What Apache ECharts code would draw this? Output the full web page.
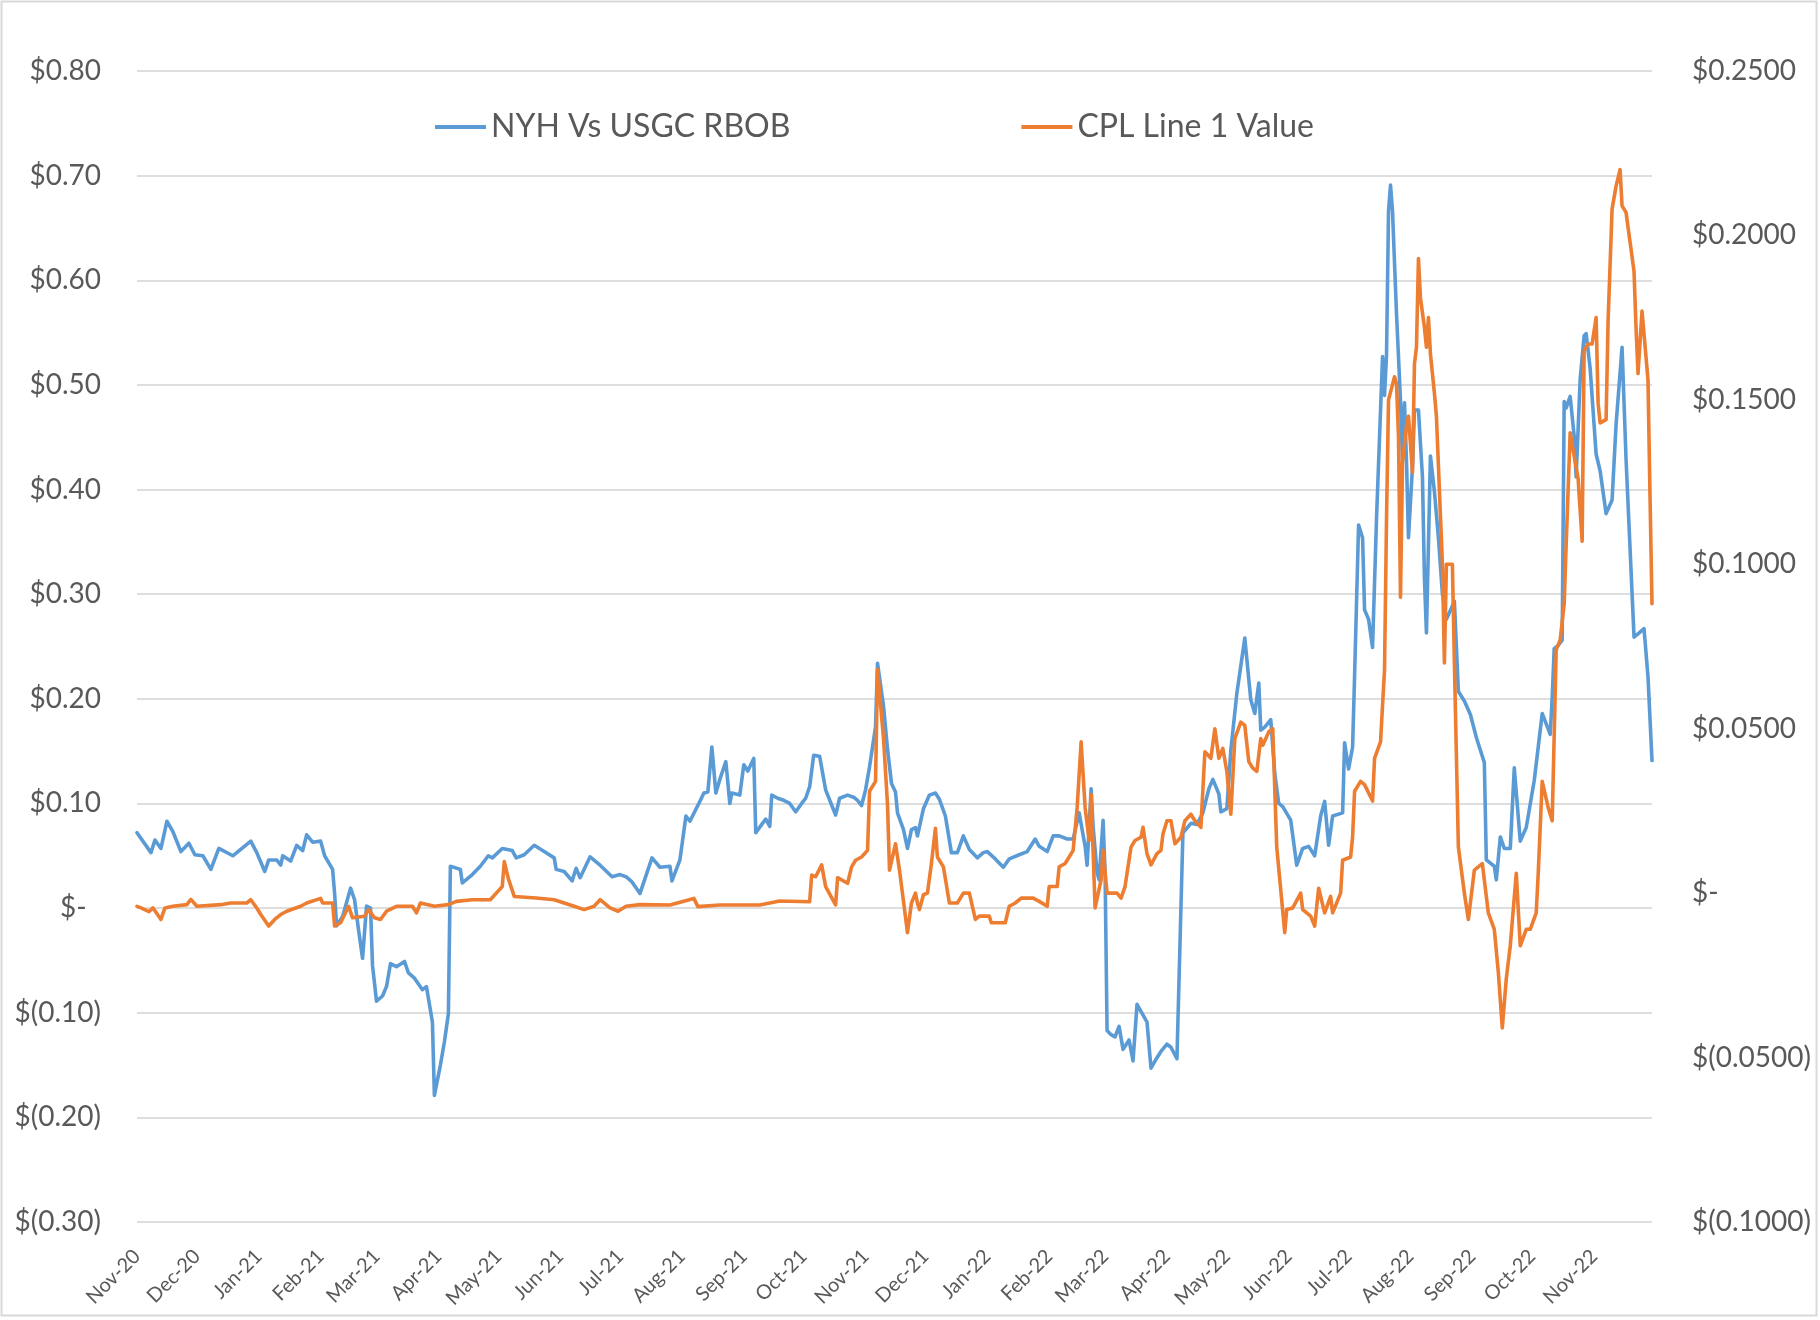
<!DOCTYPE html>
<html>
<head>
<meta charset="utf-8">
<script src="https://cdn.jsdelivr.net/npm/echarts@6/dist/echarts.min.js"></script>
<style>
  html, body { margin: 0; padding: 0; background: #fff; }
  #chart { width: 1820px; height: 1320px; }
</style>
</head>
<body>
<div id="chart"></div>
<script>
// NYH vs USGC RBOB spread (left axis, $/gal)
const nyhDates = [
  '2020-11-01','2020-11-08','2020-11-10','2020-11-13','2020-11-16','2020-11-19','2020-11-23','2020-11-27','2020-11-30',
  '2020-12-04','2020-12-08','2020-12-12','2020-12-19','2020-12-28','2020-12-31',
  '2021-01-04','2021-01-06','2021-01-10','2021-01-12','2021-01-13','2021-01-17','2021-01-20','2021-01-23','2021-01-25','2021-01-28',
  '2021-02-01','2021-02-03','2021-02-07','2021-02-08','2021-02-09','2021-02-12','2021-02-16','2021-02-18','2021-02-20','2021-02-22','2021-02-24','2021-02-26','2021-02-27',
  '2021-03-01','2021-03-04','2021-03-06','2021-03-08','2021-03-11','2021-03-15','2021-03-17','2021-03-20','2021-03-24','2021-03-26','2021-03-29','2021-03-30',
  '2021-04-02','2021-04-04','2021-04-06','2021-04-07','2021-04-12','2021-04-13','2021-04-18','2021-04-22','2021-04-26','2021-04-28',
  '2021-05-03','2021-05-08','2021-05-10','2021-05-14','2021-05-19','2021-05-24','2021-05-29','2021-05-30',
  '2021-06-03','2021-06-07','2021-06-09','2021-06-11','2021-06-16','2021-06-21','2021-06-27',
  '2021-07-01','2021-07-04','2021-07-07','2021-07-11','2021-07-17','2021-07-21','2021-07-26','2021-07-27','2021-07-31',
  '2021-08-03','2021-08-05','2021-08-10','2021-08-12','2021-08-14','2021-08-16','2021-08-18','2021-08-20','2021-08-23','2021-08-25','2021-08-26','2021-08-30',
  '2021-09-01','2021-09-03','2021-09-06','2021-09-07','2021-09-10','2021-09-12','2021-09-14','2021-09-15','2021-09-18','2021-09-21','2021-09-24','2021-09-27','2021-09-30',
  '2021-10-02','2021-10-04','2021-10-06','2021-10-09','2021-10-12','2021-10-17','2021-10-19','2021-10-23','2021-10-26','2021-10-28','2021-10-30',
  '2021-11-01','2021-11-03','2021-11-06','2021-11-07','2021-11-10','2021-11-12','2021-11-14','2021-11-16','2021-11-17','2021-11-20','2021-11-22','2021-11-24','2021-11-26','2021-11-27','2021-11-30',
  '2021-12-03','2021-12-06','2021-12-08','2021-12-11','2021-12-14','2021-12-17','2021-12-20','2021-12-23','2021-12-27','2021-12-30',
  '2022-01-01','2022-01-05','2022-01-09','2022-01-12','2022-01-17','2022-01-21','2022-01-25','2022-01-27','2022-01-31',
  '2022-02-03','2022-02-06','2022-02-10','2022-02-13','2022-02-16','2022-02-19','2022-02-20','2022-02-22','2022-02-23','2022-02-25','2022-02-26','2022-02-28',
  '2022-03-01','2022-03-02','2022-03-04','2022-03-06','2022-03-08','2022-03-10','2022-03-13','2022-03-15','2022-03-17','2022-03-22','2022-03-24','2022-03-27','2022-03-29',
  '2022-04-01','2022-04-03','2022-04-06','2022-04-09','2022-04-13','2022-04-16','2022-04-19','2022-04-22','2022-04-24','2022-04-27','2022-04-28',
  '2022-05-01','2022-05-03','2022-05-06','2022-05-10','2022-05-13','2022-05-15','2022-05-17','2022-05-18','2022-05-20','2022-05-23','2022-05-25','2022-05-27','2022-05-29',
  '2022-06-02','2022-06-05','2022-06-08','2022-06-11','2022-06-14','2022-06-17','2022-06-19','2022-06-21','2022-06-23','2022-06-28','2022-06-29',
  '2022-07-01','2022-07-03','2022-07-04','2022-07-06','2022-07-08','2022-07-09','2022-07-11','2022-07-13','2022-07-15','2022-07-18','2022-07-19','2022-07-20','2022-07-21','2022-07-22','2022-07-23','2022-07-25','2022-07-27','2022-07-28','2022-07-29','2022-07-30','2022-07-31',
  '2022-08-02','2022-08-03','2022-08-05','2022-08-07','2022-08-08','2022-08-09','2022-08-11','2022-08-13','2022-08-15','2022-08-17','2022-08-19','2022-08-23','2022-08-25','2022-08-28','2022-08-31',
  '2022-09-03','2022-09-07','2022-09-08','2022-09-12','2022-09-13','2022-09-15','2022-09-17','2022-09-20','2022-09-22','2022-09-25','2022-09-28',
  '2022-10-02','2022-10-06','2022-10-10','2022-10-11','2022-10-12','2022-10-14','2022-10-16','2022-10-17','2022-10-18','2022-10-20','2022-10-22','2022-10-23','2022-10-25','2022-10-27','2022-10-28','2022-10-30',
  '2022-11-02','2022-11-04','2022-11-07','2022-11-10','2022-11-12','2022-11-15','2022-11-17','2022-11-21','2022-11-23','2022-11-26','2022-11-28','2022-11-30'
];
const nyhValues = [
  0.072,0.053,0.065,0.057,0.083,0.073,0.054,0.062,0.051,
  0.050,0.037,0.057,0.050,0.064,0.053,
  0.035,0.046,0.046,0.041,0.050,0.045,0.060,0.055,0.070,0.063,
  0.064,0.050,0.037,0.014,-0.017,-0.008,0.019,0.008,-0.021,-0.048,0.002,0.000,-0.055,
  -0.089,-0.084,-0.075,-0.053,-0.056,-0.051,-0.062,-0.067,-0.078,-0.075,-0.109,-0.179,
  -0.150,-0.128,-0.101,0.040,0.037,0.024,0.032,0.040,0.050,0.048,
  0.057,0.055,0.048,0.051,0.060,0.054,0.048,0.037,
  0.035,0.026,0.038,0.029,0.049,0.041,0.030,
  0.032,0.030,0.025,0.014,0.048,0.039,0.040,0.026,0.046,
  0.088,0.083,0.102,0.110,0.111,0.154,0.110,0.123,0.140,0.100,0.110,0.108,
  0.137,0.131,0.143,0.072,0.080,0.085,0.078,0.108,0.105,0.103,0.100,0.092,0.100,
  0.105,0.116,0.146,0.145,0.113,0.089,0.105,0.108,0.106,0.103,0.098,
  0.113,0.135,0.173,0.234,0.193,0.152,0.119,0.111,0.091,0.075,0.057,0.075,0.077,0.069,0.095,
  0.108,0.110,0.104,0.088,0.053,0.053,0.069,0.056,0.048,0.053,
  0.054,0.047,0.039,0.047,0.051,0.054,0.066,0.059,0.054,
  0.069,0.069,0.066,0.066,0.091,0.059,0.041,0.114,0.078,0.034,0.027,0.084,
  0.034,-0.117,-0.121,-0.123,-0.113,-0.135,-0.126,-0.146,-0.092,-0.109,-0.153,-0.143,-0.137,
  -0.130,-0.133,-0.144,0.072,0.081,0.080,0.091,0.114,0.123,0.109,0.092,
  0.095,0.151,0.205,0.258,0.199,0.186,0.215,0.170,0.173,0.180,0.129,0.100,0.097,
  0.084,0.041,0.057,0.059,0.050,0.088,0.102,0.060,0.088,0.091,0.158,
  0.133,0.154,0.222,0.366,0.354,0.285,0.276,0.249,0.373,0.527,0.490,0.529,0.666,0.691,0.666,0.568,0.485,0.427,0.483,0.427,0.354,
  0.422,0.476,0.476,0.412,0.315,0.263,0.432,0.398,0.354,0.300,0.276,0.293,0.207,0.198,0.185,
  0.163,0.139,0.046,0.040,0.027,0.068,0.057,0.057,0.134,0.064,0.077,
  0.122,0.186,0.166,0.201,0.248,0.251,0.256,0.484,0.478,0.489,0.451,0.412,0.505,0.547,0.549,0.516,
  0.434,0.418,0.377,0.390,0.462,0.536,0.429,0.259,0.262,0.267,0.221,0.141
];

// CPL Line 1 value (right axis, $/gal)
const cplDates = [
  '2020-11-01','2020-11-03','2020-11-07','2020-11-09','2020-11-13','2020-11-15','2020-11-19','2020-11-26','2020-11-28',
  '2020-12-01','2020-12-13','2020-12-18','2020-12-26','2020-12-28','2020-12-31',
  '2021-01-02','2021-01-06','2021-01-09','2021-01-12','2021-01-15','2021-01-22','2021-01-25',
  '2021-02-01','2021-02-02','2021-02-07','2021-02-08','2021-02-11','2021-02-15','2021-02-17','2021-02-23','2021-02-25','2021-02-28',
  '2021-03-03','2021-03-06','2021-03-11','2021-03-19','2021-03-21','2021-03-23','2021-03-30',
  '2021-04-06','2021-04-10','2021-04-18','2021-04-27','2021-04-30',
  '2021-05-03','2021-05-04','2021-05-06','2021-05-09','2021-05-20','2021-05-29',
  '2021-06-03','2021-06-08','2021-06-13','2021-06-18','2021-06-21','2021-06-26','2021-06-30',
  '2021-07-04','2021-07-11','2021-07-26','2021-08-07','2021-08-09','2021-08-20','2021-09-09','2021-09-19',
  '2021-10-04','2021-10-05','2021-10-07','2021-10-10','2021-10-12','2021-10-17','2021-10-18','2021-10-23','2021-10-25','2021-10-27','2021-10-30',
  '2021-11-02','2021-11-03','2021-11-06','2021-11-07','2021-11-10','2021-11-12','2021-11-13','2021-11-16','2021-11-18','2021-11-22','2021-11-24','2021-11-26','2021-11-27','2021-11-28','2021-11-30',
  '2021-12-02','2021-12-04','2021-12-06','2021-12-07','2021-12-10','2021-12-13','2021-12-17','2021-12-20','2021-12-23','2021-12-26','2021-12-28',
  '2022-01-02','2022-01-03','2022-01-07','2022-01-10','2022-01-12','2022-01-15','2022-01-18','2022-01-24','2022-01-27','2022-01-31',
  '2022-02-01','2022-02-05','2022-02-06','2022-02-09','2022-02-11','2022-02-13','2022-02-15','2022-02-17','2022-02-19','2022-02-21','2022-02-22','2022-02-24','2022-02-27','2022-02-28',
  '2022-03-02','2022-03-07','2022-03-09','2022-03-11','2022-03-14','2022-03-16','2022-03-19','2022-03-20','2022-03-22','2022-03-24','2022-03-27','2022-03-29','2022-03-30',
  '2022-04-01','2022-04-03','2022-04-05','2022-04-08','2022-04-10','2022-04-13','2022-04-15','2022-04-18','2022-04-20','2022-04-23','2022-04-25','2022-04-27','2022-04-29',
  '2022-05-01','2022-05-03','2022-05-05','2022-05-08','2022-05-10','2022-05-12','2022-05-14','2022-05-16','2022-05-18','2022-05-19','2022-05-22','2022-05-24','2022-05-26','2022-05-30','2022-05-31',
  '2022-06-03','2022-06-07','2022-06-08','2022-06-12','2022-06-14','2022-06-16','2022-06-19','2022-06-22','2022-06-23','2022-06-27','2022-06-28',
  '2022-07-02','2022-07-03','2022-07-04','2022-07-07','2022-07-09','2022-07-13','2022-07-14','2022-07-17','2022-07-19','2022-07-20','2022-07-21','2022-07-24','2022-07-25','2022-07-26','2022-07-27','2022-07-28','2022-07-30','2022-07-31',
  '2022-08-02','2022-08-03','2022-08-04','2022-08-05','2022-08-06','2022-08-08','2022-08-09','2022-08-10','2022-08-11','2022-08-13','2022-08-14','2022-08-17','2022-08-18','2022-08-19','2022-08-22','2022-08-23','2022-08-25','2022-08-28','2022-08-30',
  '2022-09-02','2022-09-06','2022-09-09','2022-09-12','2022-09-14','2022-09-16','2022-09-18','2022-09-20','2022-09-23','2022-09-25','2022-09-28','2022-09-30',
  '2022-10-03','2022-10-04','2022-10-06','2022-10-09','2022-10-11','2022-10-13','2022-10-15','2022-10-17','2022-10-18','2022-10-20','2022-10-22','2022-10-24','2022-10-26','2022-10-27','2022-10-29','2022-10-31',
  '2022-11-02','2022-11-03','2022-11-04','2022-11-07','2022-11-08','2022-11-10','2022-11-12','2022-11-14','2022-11-15','2022-11-17','2022-11-21','2022-11-22','2022-11-23','2022-11-25','2022-11-28','2022-11-29','2022-11-30'
];
const cplValues = [
  -0.004,-0.0045,-0.0056,-0.0045,-0.008,-0.0045,-0.004,-0.0035,-0.0019,
  -0.004,-0.0035,-0.003,-0.003,-0.002,-0.0045,
  -0.0065,-0.010,-0.008,-0.0065,-0.0055,-0.004,-0.003,
  -0.0016,-0.003,-0.003,-0.010,-0.009,-0.004,-0.0075,-0.007,-0.005,-0.0075,
  -0.008,-0.0055,-0.004,-0.004,-0.006,-0.003,-0.004,
  -0.0035,-0.0025,-0.002,-0.002,0.000,
  0.002,0.0096,0.0045,-0.001,-0.0015,-0.002,
  -0.003,-0.004,-0.005,-0.004,-0.002,-0.0045,-0.0055,
  -0.004,-0.0035,-0.0036,-0.0016,-0.0041,-0.0036,-0.0036,-0.0024,
  -0.0026,0.0055,0.005,0.0086,0.002,-0.0036,0.0047,0.003,0.008,0.010,0.011,
  0.013,0.031,0.034,0.068,0.047,0.027,0.007,0.015,0.007,-0.012,-0.003,0.000,-0.003,-0.005,-0.0005,
  0.000,0.009,0.0197,0.011,0.008,-0.003,-0.003,0.000,0.000,-0.008,-0.007,
  -0.007,-0.009,-0.009,-0.009,-0.004,-0.003,-0.0015,-0.0015,-0.0025,-0.004,
  0.002,0.002,0.008,0.009,0.011,0.013,0.026,0.046,0.026,0.016,0.030,-0.0045,0.004,0.013,
  0.000,0.000,-0.0015,0.002,0.014,0.016,0.017,0.020,0.012,0.0086,0.012,0.013,0.018,
  0.022,0.022,0.015,0.017,0.022,0.024,0.022,0.020,0.043,0.041,0.050,0.041,0.044,
  0.037,0.024,0.047,0.052,0.051,0.040,0.038,0.037,0.047,0.045,0.049,0.050,0.014,-0.012,-0.005,
  -0.0045,0.000,-0.005,-0.007,-0.010,0.0015,-0.006,-0.001,-0.006,0.000,0.010,
  0.011,0.017,0.031,0.034,0.033,0.028,0.041,0.046,0.068,0.114,0.150,0.157,0.155,0.139,0.090,0.131,0.142,0.145,
  0.128,0.161,0.166,0.193,0.181,0.172,0.166,0.175,0.164,0.152,0.145,0.100,0.070,0.100,0.100,0.070,0.014,0.000,-0.008,
  0.007,0.009,-0.006,-0.011,-0.024,-0.041,-0.026,-0.016,0.006,-0.016,-0.011,-0.011,
  -0.006,0.006,0.034,0.026,0.022,0.074,0.077,0.088,0.106,0.140,0.133,0.126,0.107,0.165,0.167,0.167,
  0.175,0.149,0.143,0.144,0.174,0.208,0.215,0.220,0.209,0.207,0.189,0.172,0.158,0.177,0.156,0.121,0.088
];

const monthNames = ['Jan','Feb','Mar','Apr','May','Jun','Jul','Aug','Sep','Oct','Nov','Dec'];
const seriesNames = ['NYH Vs USGC RBOB', 'CPL Line 1 Value'];

const font = 'Lato';
const textColor = '#595959';

const fmtMonth = (v) => {
  const d = new Date(v);
  return monthNames[d.getMonth()] + '-' + String(d.getFullYear()).slice(2);
};
// accounting style: $-, $(0.10)
const fmtLeft = (v) => {
  v = Math.round(v * 100) / 100;
  if (v === 0) return '$-  ';
  if (v < 0) return '$(' + (-v).toFixed(2) + ')';
  return '$' + v.toFixed(2);
};
const fmtRight = (v) => {
  v = Math.round(v * 10000) / 10000;
  if (v === 0) return '$-';
  if (v < 0) return '$(' + (-v).toFixed(4) + ')';
  return '$' + v.toFixed(4);
};

const chart = echarts.init(document.getElementById('chart'));
const option = {
  animation: false,
  backgroundColor: '#fff',
  textStyle: { fontFamily: font },
  color: ['#5B9BD5', '#ED7D31'],
  graphic: [{
    type: 'rect',
    shape: { x: 1.5, y: 1.5, width: 1815, height: 1314 },
    style: { fill: 'none', stroke: '#d9d9d9', lineWidth: 2 },
    silent: true
  }],
  legend: {
    left: 430,
    top: 106,
    icon: 'rect',
    itemWidth: 51,
    itemHeight: 4,
    itemGap: 231,
    textStyle: { fontSize: 32, color: textColor, fontFamily: font }
  },
  grid: { left: 137, right: 168, top: 71, bottom: 98, containLabel: false },
  xAxis: {
    type: 'time',
    min: '2020-11-01',
    max: '2022-11-30',
    splitNumber: 30,
    axisLine: { show: false },
    axisTick: { show: false },
    splitLine: { show: false },
    axisLabel: {
      rotate: 45,
      margin: 31,
      fontSize: 20,
      color: textColor,
      fontFamily: font,
      showMaxLabel: false,
      formatter: fmtMonth
    }
  },
  yAxis: [{
    type: 'value',
    min: -0.3,
    max: 0.8,
    interval: 0.1,
    axisLine: { show: false },
    axisTick: { show: false },
    splitLine: { lineStyle: { color: '#dedede', width: 2 } },
    axisLabel: { margin: 36, fontSize: 28, color: textColor, fontFamily: font, formatter: fmtLeft }
  }, {
    type: 'value',
    min: -0.1,
    max: 0.25,
    interval: 0.05,
    position: 'right',
    axisLine: { show: false },
    axisTick: { show: false },
    splitLine: { show: false },
    axisLabel: { margin: 40, fontSize: 28, color: textColor, fontFamily: font, formatter: fmtRight }
  }],
  series: [{
    name: seriesNames[0],
    type: 'line',
    yAxisIndex: 0,
    showSymbol: false,
    lineStyle: { width: 3.6, join: 'round', cap: 'round' },
    data: nyhDates.map((d, i) => [d, nyhValues[i]])
  }, {
    name: seriesNames[1],
    type: 'line',
    yAxisIndex: 1,
    showSymbol: false,
    lineStyle: { width: 3.6, join: 'round', cap: 'round' },
    data: cplDates.map((d, i) => [d, cplValues[i]])
  }]
};
option && chart.setOption(option);
</script>
</body>
</html>
